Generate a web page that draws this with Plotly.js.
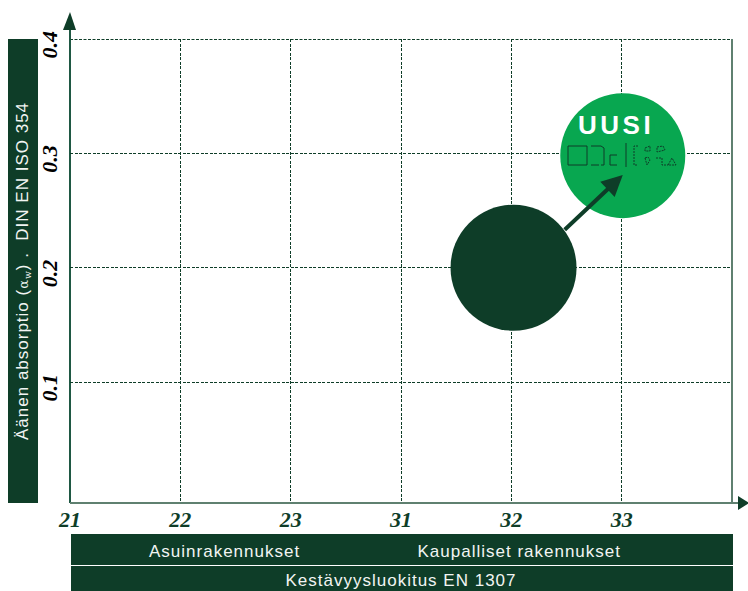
<!DOCTYPE html>
<html><head><meta charset="utf-8">
<script src="https://cdn.plot.ly/plotly-3.0.1.min.js"></script>
<style>html,body{margin:0;padding:0;background:#fff}#c{width:748px;height:591px}
#c .annotation-text{letter-spacing:1px}</style>
</head><body><div id="c"></div>
<script>
const xTickLabels = ["21","22","23","31","32","33"];
const xTickPos = [0,1,2,3,4,5];
const yTickVals = [0.1,0.2,0.3,0.4];
const yTickLabels = ["0.1","0.2","0.3","0.4"];
const bubbleX = [4.02,5.01];
const bubbleY = [0.2,0.298];
const bubbleColors = ["#0e3d28","#08a750"];
const yTitle = "Äänen absorptio (<span style=\"font-family:'DejaVu Serif';font-size:13px\">α<sub>w</sub></span>) .  DIN EN ISO 354";
const band1 = ["Asuinrakennukset","Kaupalliset rakennukset"];
const band2 = "Kestävyysluokitus EN 1307";

const W=748,H=591,L=70,R=732,T=39,B=503;
const px=x=>(x-L)/(R-L), py=y=>(B-y)/(B-T);
const DK="#0e3d28";
const rect=(x0,y0,x1,y1,c)=>({type:"rect",xref:"paper",yref:"paper",x0:px(x0),x1:px(x1),y0:py(y0),y1:py(y1),fillcolor:c,line:{width:0},layer:"below"});
const line=(x0,y0,x1,y1,c,w,d)=>({type:"line",xref:"paper",yref:"paper",x0:px(x0),x1:px(x1),y0:py(y0),y1:py(y1),line:{color:c,width:w,dash:d||"solid"},layer:"below"});
const poly=(pts,c)=>({type:"path",xref:"paper",yref:"paper",path:"M"+pts.map(p=>px(p[0])+","+py(p[1])).join("L")+"Z",fillcolor:c,line:{width:0}});
const stroke=(pts,dash)=>({type:"path",xref:"paper",yref:"paper",path:"M"+pts.map(p=>px(p[0])+","+py(p[1])).join("L"),line:{color:DK,width:1,dash:dash||"solid"}});
const GD="3px,1.5px";

const shapes=[
 rect(8,39,38,503,DK),
 rect(71,534,733,565,DK),
 rect(71,566,733,591,DK),
 line(70,39.5,732,39.5,DK,1,GD),
 line(70,28,70,503,"#1f5843",2),
 line(732,39,732,503,"#5f8070",2),
 line(70,503,738,503,"#5f8070",2),
 poly([[70,12],[63,30],[76,30]],DK),
 poly([[749,503],[738,496],[738,510]],DK),
 // logo marks
 stroke([[568,146],[587,146],[587,165],[568,165],[568,146]]),
 stroke([[591,146],[601,146],[604,148],[604,165],[601,165]]),
 stroke([[591,165],[599,165]]),
 stroke([[617,155],[610,155],[610,165],[617,165]]),
 stroke([[626,143],[626,167]]),
 stroke([[638,146],[634,146],[634,165],[638,165]],"2px,1px"),
 stroke([[645,148],[650,146],[650,151],[645,151],[645,148]],"2px,1px"),
 stroke([[657,147],[663,146],[665,150],[657,152],[657,147]],"2px,1px"),
 stroke([[645,158],[648,157],[650,160],[647,165],[645,158]],"2px,1px"),
 stroke([[656,158],[662,158],[662,165],[668,165]],"2px,1px"),
 stroke([[668,165],[672,158],[676,165],[668,165]],"2px,1px")
];

const fontSans="Liberation Sans, Arial, sans-serif";
const txt=(t,x,y,size,extra)=>Object.assign({text:t,xref:"paper",yref:"paper",x:px(x),y:py(y),showarrow:false,
 font:{family:fontSans,size:size,color:"#f2f5f3"},xanchor:"center",yanchor:"middle"},extra||{});

const annotations=[
 txt(yTitle,23,271,17,{textangle:-90}),
 txt(band1[0],224,551,17),
 txt(band1[1],519,551,17),
 txt(band2,401,580,17),
 {text:"<span style=\"letter-spacing:3.5px\"><b>UUSI</b></span>",xref:"paper",yref:"paper",x:px(616),y:py(125),showarrow:false,xanchor:"center",yanchor:"middle",
  font:{family:fontSans,size:26,color:"#fff"}},
 {x:5.01,y:0.281,ax:4.47,ay:0.232,xref:"x",yref:"y",axref:"x",ayref:"y",text:"",showarrow:true,arrowhead:2,arrowsize:1.05,arrowwidth:4,arrowcolor:DK}
];

const layout={
 width:W,height:H,autosize:false,showlegend:false,
 margin:{l:L,r:W-R,t:T,b:H-B,pad:0},
 paper_bgcolor:"#fff",plot_bgcolor:"#fff",
 xaxis:{range:[0,6.0],tickmode:"array",tickvals:xTickPos,ticktext:xTickLabels,showgrid:true,gridcolor:DK,griddash:GD,gridwidth:1,
  zeroline:false,showline:false,ticks:"",ticklabelstandoff:1,
  tickfont:{family:"Liberation Serif, serif",size:22,color:DK,style:"italic",weight:"bold"}},
 yaxis:{range:[-0.0058,0.4],tickmode:"array",tickvals:yTickVals,ticktext:yTickLabels,showgrid:true,gridcolor:DK,griddash:GD,gridwidth:1,
  zeroline:false,showline:false,ticks:"",tickangle:-90,ticklabelshift:9,ticklabelstandoff:8,
  tickfont:{family:"Liberation Serif, serif",size:22,color:"#000",style:"italic",weight:"bold"}},
 shapes:shapes,annotations:annotations
};
const data=[{type:"scatter",mode:"markers",x:bubbleX,y:bubbleY,cliponaxis:false,
 marker:{size:[126,125],color:bubbleColors,line:{width:0},opacity:1},hoverinfo:"skip"}];
Plotly.newPlot("c",data,layout,{displayModeBar:false,staticPlot:true});
</script></body></html>
